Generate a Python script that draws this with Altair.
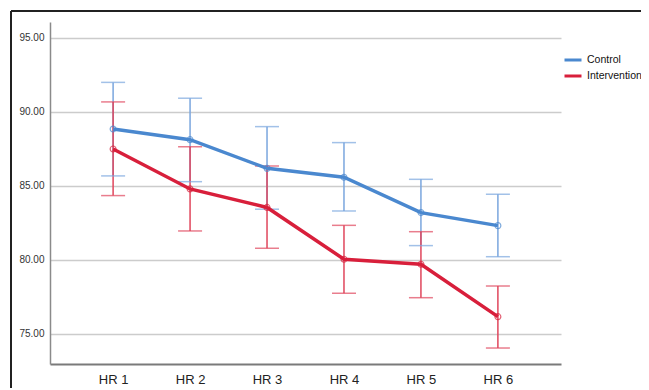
import altair as alt
import pandas as pd

hours = ["HR 1", "HR 2", "HR 3", "HR 4", "HR 5", "HR 6"]
groups = ["Control", "Intervention"]
control_mean = [88.85, 88.13, 86.19, 85.59, 83.20, 82.32]
control_hi = [92.00, 90.93, 89.01, 87.93, 85.45, 84.44]
control_lo = [85.68, 85.29, 83.43, 83.31, 80.97, 80.22]
interv_mean = [87.50, 84.80, 83.55, 80.05, 79.71, 76.17]
interv_hi = [90.68, 87.65, 86.35, 82.34, 81.91, 78.24]
interv_lo = [84.35, 81.96, 80.79, 77.75, 77.45, 74.05]
y_ticks = [75, 80, 85, 90, 95]

rows = []
for g, m, hi, lo in [("Control", control_mean, control_hi, control_lo),
                     ("Intervention", interv_mean, interv_hi, interv_lo)]:
    for h, a, b, c in zip(hours, m, hi, lo):
        rows.append({"hour": h, "group": g, "mean": a, "hi": b, "lo": c})
df = pd.DataFrame(rows)

line_colors = ["#4a88cf", "#d81f3b"]
bar_colors = ["#7aa6de", "#e0465c"]

x = alt.X("hour:N", sort=hours, title=None,
          scale=alt.Scale(type="point", padding=0.82),
          axis=alt.Axis(labelAngle=0, ticks=False, labelFontSize=13, labelColor="#222",
                        labelFont="Liberation Sans", labelPadding=9, grid=False,
                        domainColor="#7a7a7a", domainWidth=2))
yscale = alt.Scale(domain=[72.97, 96.08], nice=False, zero=False)
y = alt.Y("mean:Q", scale=yscale, title=None,
          axis=alt.Axis(values=y_ticks, format=".2f", ticks=False, labelFontSize=10,
                        labelColor="#333", labelFont="Liberation Sans", labelPadding=6,
                        gridColor="#cccccc", gridWidth=1.5, domainColor="#8a8a8a",
                        domainWidth=1.5))

base = alt.Chart(df)
bar_color = alt.Color("group:N", scale=alt.Scale(domain=groups, range=bar_colors), legend=None)
pt_color = alt.Color("group:N", scale=alt.Scale(domain=groups, range=line_colors), legend=None)
line_color = alt.Color("group:N", scale=alt.Scale(domain=groups, range=line_colors),
                       legend=alt.Legend(title=None, orient="none", legendX=513, legendY=28,
                                         padding=0, symbolType="stroke", symbolSize=289,
                                         symbolStrokeWidth=3, labelFontSize=10.5,
                                         labelFont="Liberation Sans", labelColor="#111",
                                         rowPadding=-2, labelOffset=4))

rules = base.mark_rule(strokeWidth=1.5).encode(
    x=x, y=alt.Y("lo:Q", scale=yscale), y2="hi:Q", color=bar_color)
caps_hi = base.mark_tick(size=24, thickness=1.5).encode(
    x=x, y=alt.Y("hi:Q", scale=yscale), color=bar_color)
caps_lo = base.mark_tick(size=24, thickness=1.5).encode(
    x=x, y=alt.Y("lo:Q", scale=yscale), color=bar_color)
lines = base.mark_line(strokeWidth=3.5).encode(x=x, y=y, color=line_color)
points = base.mark_point(filled=False, size=35, strokeWidth=1.2).encode(
    x=x, y=alt.Y("mean:Q", scale=yscale), color=pt_color)

border_top = alt.Chart(df).mark_rule(color="#222", strokeWidth=1.5).encode(
    x=alt.value(-39), x2=alt.value(600), y=alt.value(-11))
border_left = alt.Chart(df).mark_rule(color="#222", strokeWidth=1.5).encode(
    x=alt.value(-39), y=alt.value(-11), y2=alt.value(370))

chart = alt.layer(rules, caps_hi, caps_lo, lines, points, border_top, border_left).resolve_scale(
    color="independent").properties(
    width=511, height=342,
    background="white",
    autosize=alt.AutoSizeParams(type="none"),
    padding={"left": 42, "top": 14, "right": 80, "bottom": 24},
).configure_view(stroke=None)

chart.save("out.html", embed_options={"renderer": "svg", "actions": False})
